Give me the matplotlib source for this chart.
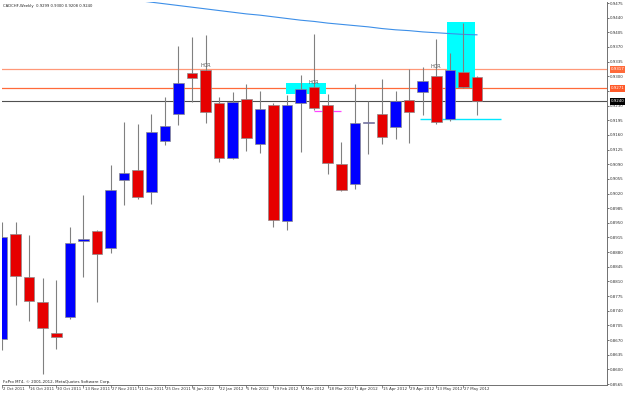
import matplotlib
matplotlib.use("Agg")
import matplotlib.pyplot as plt
import matplotlib.transforms as mtransforms
from matplotlib.patches import Rectangle
import numpy as np
import pandas as pd


# weekly CADCHF candles, 2 Oct 2011 .. 3 Jun 2012
opens = [0.8673, 0.8923, 0.8821, 0.8761, 0.8687, 0.8725, 0.8906, 0.8930, 0.8891,
         0.9052, 0.9075, 0.9024, 0.9146, 0.9210, 0.9309, 0.9315, 0.9235, 0.9104,
         0.9245, 0.9139, 0.9231, 0.8954, 0.9236, 0.9275, 0.9231, 0.9090, 0.9042,
         0.9188, 0.9209, 0.9178, 0.9243, 0.9263, 0.9301, 0.9197, 0.9311, 0.9299]
highs = [0.8952, 0.8952, 0.8921, 0.8818, 0.8813, 0.8940, 0.9016, 0.8933, 0.9088,
         0.9192, 0.9185, 0.9210, 0.9250, 0.9373, 0.9395, 0.9399, 0.9250, 0.9262,
         0.9281, 0.9265, 0.9235, 0.9255, 0.9303, 0.9401, 0.9258, 0.9142, 0.9281,
         0.9240, 0.9293, 0.9265, 0.9317, 0.9321, 0.9389, 0.9355, 0.9428, 0.9300]
lows = [0.8646, 0.8754, 0.8716, 0.8589, 0.8649, 0.8720, 0.8821, 0.8762, 0.8877,
        0.8993, 0.9006, 0.8994, 0.9136, 0.9183, 0.9238, 0.9188, 0.9096, 0.9102,
        0.9122, 0.9117, 0.8941, 0.8933, 0.9120, 0.9219, 0.9066, 0.9027, 0.9031,
        0.9115, 0.9138, 0.9151, 0.9140, 0.9208, 0.9186, 0.9193, 0.9272, 0.9208]
closes = [0.8916, 0.8823, 0.8763, 0.8699, 0.8677, 0.8902, 0.8911, 0.8876, 0.9028,
          0.9070, 0.9012, 0.9167, 0.9181, 0.9283, 0.9295, 0.9214, 0.9106, 0.9238,
          0.9152, 0.9222, 0.8957, 0.9232, 0.9270, 0.9225, 0.9092, 0.9028, 0.9188,
          0.9191, 0.9156, 0.9242, 0.9214, 0.9289, 0.9191, 0.9315, 0.9275, 0.9240]

# moving average, visible from week 8 onwards
ma_first_week = 8
ma_values = [0.9489, 0.9485, 0.9481, 0.9477, 0.9473, 0.9469, 0.9465, 0.9461,
             0.9457, 0.9453, 0.9449, 0.9446, 0.9442, 0.9438, 0.9434, 0.9431,
             0.9427, 0.9424, 0.9421, 0.9418, 0.9414, 0.9411, 0.9409, 0.9406,
             0.9404, 0.9402, 0.9400, 0.9399]

weeks = pd.date_range("2011-10-02", periods=len(opens), freq="7D")
week_labels = [f"{d.day} {d:%b %Y}" for d in weeks]

price_ticks = np.round(np.arange(0.8565, 0.94751, 0.0035), 4)

upper_level = 0.9317
lower_level = 0.9271
last_close = 0.9240
hcr_marks = [(15, 0.9325), (23, 0.9284), (32, 0.9323)]

fig = plt.figure(figsize=(6.25, 3.93), dpi=100)
ax = fig.add_axes([2 / 625, 8 / 393, 605 / 625, 383 / 393])
ax.set_xlim(0, 605 / 13.57)
ax.set_ylim(0.85627, 0.94774)

x = np.arange(len(opens))
o = np.array(opens)
c = np.array(closes)
bull = c >= o

# horizontal levels
ax.axhline(upper_level, color="#ff9878", lw=0.9, zorder=1)
ax.axhline(lower_level, color="#ff6a3a", lw=0.9, zorder=1)
ax.axhline(last_close, color="#505050", lw=0.8, zorder=1)

# drawn objects
ax.add_patch(Rectangle((20.9, 0.9258), 2.95, 0.0026, color="#00ffff", zorder=1.5, lw=0))
ax.add_patch(Rectangle((32.8, 0.9272), 2.05, 0.0158, color="#00ffff", zorder=1.5, lw=0))
ax.hlines(0.9197, 30.8, 36.8, color="#00e8ff", lw=1.0, zorder=1.5)
ax.hlines(0.9218, 23.0, 25.0, color="#ff44ff", lw=0.9, zorder=1.5)

ax.plot(x[ma_first_week:], ma_values, color="#3d8fe8", lw=0.8, zorder=2)

ax.vlines(x, lows, highs, color="#808080", lw=0.8, zorder=3)
heights = np.maximum(np.abs(c - o), 0.00012)
ax.bar(x, heights, bottom=np.minimum(o, c), width=0.78,
       color=np.where(bull, "#0000ff", "#e60000"), edgecolor="#8c8c8c",
       linewidth=0.5, zorder=4)

for week, price in hcr_marks:
    ax.text(week, price, "HCR", fontsize=3.6, color="#555555", ha="center",
            va="center", zorder=5)

# axes look
for side in ("top", "left"):
    ax.spines[side].set_visible(False)
for side in ("right", "bottom"):
    ax.spines[side].set_color("#707070")
    ax.spines[side].set_linewidth(0.7)

ax.yaxis.tick_right()
ax.set_yticks(price_ticks)
ax.set_yticklabels([f"{p:.4f}" for p in price_ticks])
ax.tick_params(axis="y", length=1.5, width=0.5, pad=0.6, labelsize=2.9,
               colors="#333333")

ax.set_xticks(x[::2])
ax.set_xticklabels([])
ax.tick_params(axis="x", length=2.5, width=0.5, colors="#555555")
xform = mtransforms.blended_transform_factory(ax.transData, ax.transAxes)
for pos, label in zip(x[::2], week_labels[::2]):
    ax.text(pos + 0.08, -0.004, label, transform=xform, fontsize=2.8,
            ha="left", va="top", color="#333333", clip_on=False)

yform = mtransforms.blended_transform_factory(ax.transAxes, ax.transData)
for level, face in ((upper_level, "#ff6a3a"), (lower_level, "#ff5a2a"),
                    (last_close, "#000000")):
    ax.text(1.0065, level, f"{level:.4f}", transform=yform, fontsize=2.9,
            color="white", ha="left", va="center", zorder=10, clip_on=False,
            bbox=dict(boxstyle="square,pad=0.35", fc=face, ec="none"))

fig.text(3 / 625, 1 - 5.5 / 393, "CADCHF,Weekly  0.9299 0.9300 0.9208 0.9240",
         fontsize=2.7, va="center", ha="left", color="#222222")
fig.text(3 / 625, 1 - 382.5 / 393, "FxPro MT4, \u00a9 2001-2012, MetaQuotes Software Corp.",
         fontsize=2.9, va="center", ha="left", color="#222222")

fig.savefig("out.png", dpi=100)
